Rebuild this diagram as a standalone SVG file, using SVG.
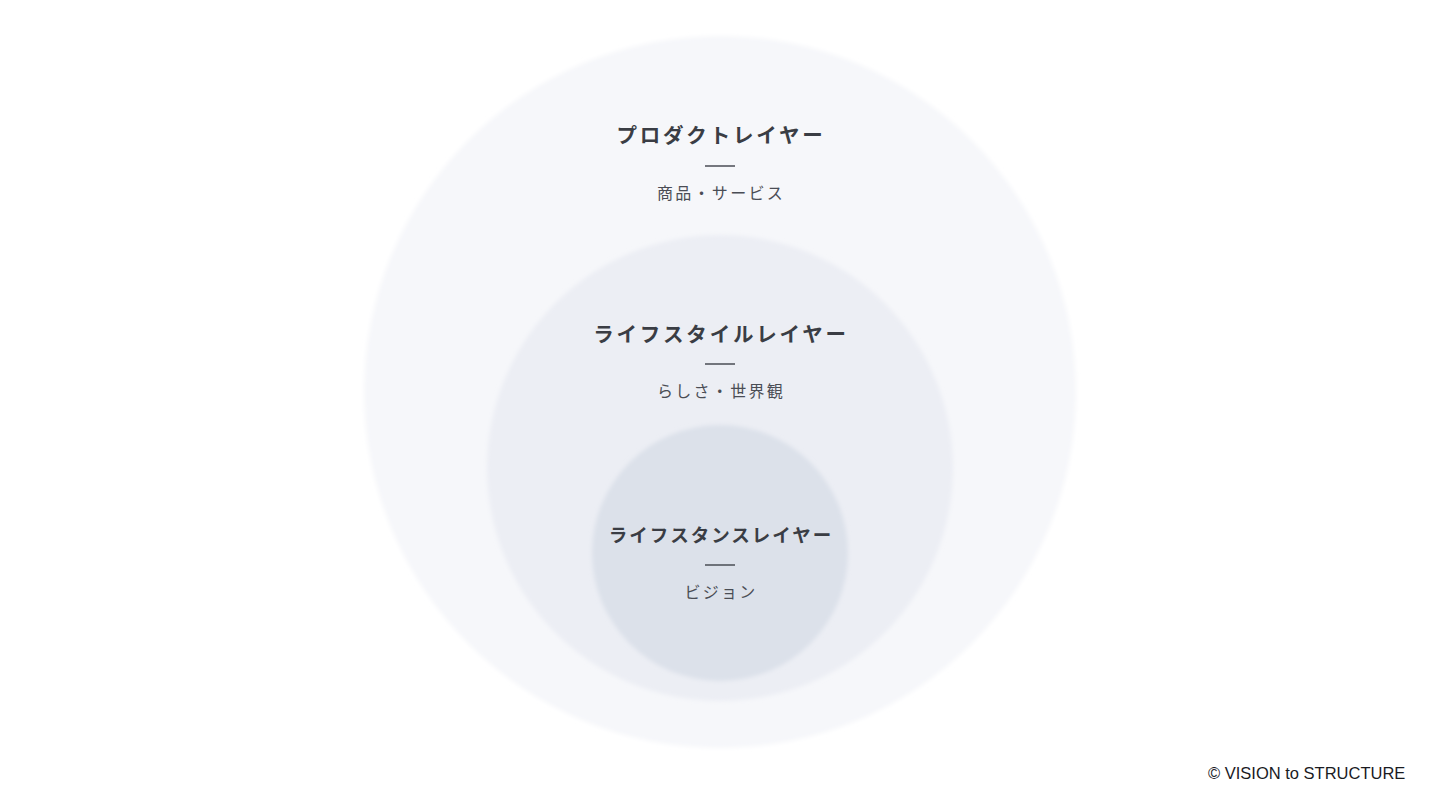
<svg xmlns="http://www.w3.org/2000/svg" width="1440" height="810" viewBox="0 0 1440 810">
<defs>
<style>
.title{font-family:"Noto Sans CJK JP","Noto Sans",sans-serif;font-size:20.5px;font-weight:700;fill:#3a3d44;letter-spacing:2.8px;text-anchor:middle}
.title.small{font-size:18.5px;letter-spacing:2px}
.sub{font-family:"Noto Sans CJK JP","Noto Sans",sans-serif;font-size:16px;font-weight:400;fill:#4a4d55;letter-spacing:2.3px;text-anchor:middle}
.rule{stroke:#4a4d55;stroke-width:1.5}
.credit{font-family:"Liberation Sans",Arial,sans-serif;font-size:16.5px;fill:#1a1b1f}
</style>
<filter id="soft" x="-10%" y="-10%" width="120%" height="120%">
<feGaussianBlur stdDeviation="2"/>
</filter>
</defs>
<rect width="1440" height="810" fill="#ffffff"/>
<g id="product-layer">
<circle cx="720" cy="392" r="356" fill="#f6f7fa" filter="url(#soft)"/>
<text class="title" x="721" y="143">プロダクトレイヤー</text>
<line class="rule" x1="705" y1="166" x2="735" y2="166"/>
<text class="sub" x="721" y="199">商品・サービス</text>
</g>
<g id="lifestyle-layer">
<circle cx="720" cy="468" r="233" fill="#eceef4" filter="url(#soft)"/>
<text class="title" x="721" y="342">ライフスタイルレイヤー</text>
<line class="rule" x1="705" y1="364" x2="735" y2="364"/>
<text class="sub" x="721" y="397">らしさ・世界観</text>
</g>
<g id="lifestance-layer">
<circle cx="720" cy="553" r="128" fill="#dce1ea" filter="url(#soft)"/>
<text class="title small" x="721" y="542">ライフスタンスレイヤー</text>
<line class="rule" x1="705" y1="565" x2="735" y2="565"/>
<text class="sub" x="721" y="598">ビジョン</text>
</g>
<g id="connectors"></g>
<text class="credit" x="1208" y="779">© VISION to STRUCTURE</text>
</svg>
